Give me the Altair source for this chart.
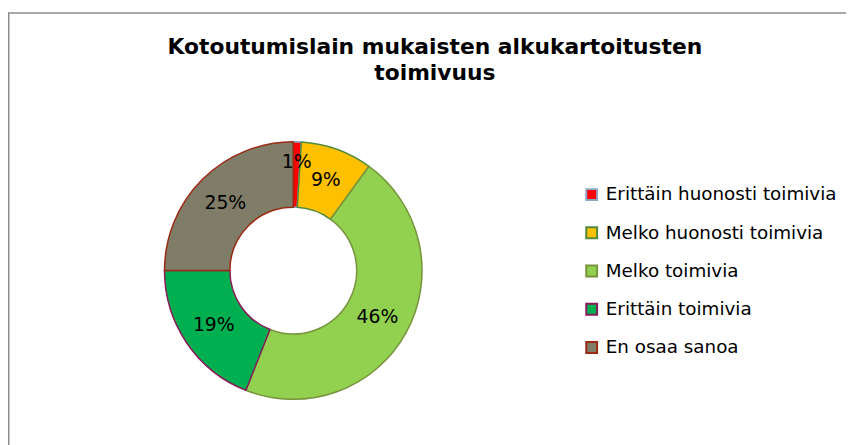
import altair as alt
import pandas as pd

categories = ["Erittäin huonosti toimivia", "Melko huonosti toimivia", "Melko toimivia",
              "Erittäin toimivia", "En osaa sanoa"]
values = [1, 9, 46, 19, 25]
labels = ["1%", "9%", "46%", "19%", "25%"]
fills = ["#FF0000", "#FFC000", "#92D050", "#00B050", "#7F7C67"]
strokes = ["#8EA6C6", "#4F8A3E", "#77933C", "#8B1A5A", "#9C2A12"]
title_lines = ["Kotoutumislain mukaisten alkukartoitusten", "toimivuus"]

df = pd.DataFrame({"cat": categories, "value": values, "label": labels,
                   "idx": list(range(len(categories)))})

FONT = "DejaVu Sans"
CX, CY = 288, 263

legend = alt.Legend(title=None, orient="none", legendX=580, legendY=177,
                    symbolType="square", symbolSize=120, symbolStrokeWidth=2,
                    labelFont=FONT, labelFontSize=18.5, labelColor="#000000",
                    labelOffset=5, rowPadding=18.6, labelLimit=400)

base = alt.Chart(df)

arcs = base.mark_arc(outerRadius=130, innerRadius=64, strokeWidth=1.5).encode(
    x=alt.value(CX), y=alt.value(CY),
    theta=alt.Theta("value:Q", stack=True),
    order=alt.Order("idx:Q"),
    fill=alt.Fill("cat:N", scale=alt.Scale(domain=categories, range=fills), legend=legend, sort=categories),
    stroke=alt.Stroke("cat:N", scale=alt.Scale(domain=categories, range=strokes), legend=legend, sort=categories),
)

stacked = base.transform_stack(
    stack="value", groupby=[], as_=["s0", "s1"], sort=[alt.SortField("idx", order="ascending")]
).transform_calculate(mid="(datum.s0 + datum.s1) / 2")

def label_layer(cond, r):
    return stacked.transform_filter(cond).mark_text(
        font=FONT, fontSize=19, color="#000000", radius=r).encode(
        x=alt.value(CX), y=alt.value(CY),
        theta=alt.Theta("mid:Q", stack=None),
        text="label:N",
    )

texts_main = label_layer("datum.value >= 2", 97)
texts_small = label_layer("datum.value < 2", 110)

one = alt.Chart(pd.DataFrame({"a": [0]}))
border = one.mark_rect(fill=None, stroke="#8C8C8C", strokeWidth=1.5).encode(
    x=alt.value(0.75), y=alt.value(3), x2=alt.value(900), y2=alt.value(500))

t1 = one.mark_text(font=FONT, fontSize=22, fontWeight="bold", color="#000000",
                   align="center", baseline="alphabetic").encode(
    x=alt.value(431), y=alt.value(44), text=alt.value(title_lines[0]))
t2 = one.mark_text(font=FONT, fontSize=22, fontWeight="bold", color="#000000",
                   align="center", baseline="alphabetic").encode(
    x=alt.value(431), y=alt.value(71), text=alt.value(title_lines[1]))

chart = alt.layer(border, arcs, texts_main, texts_small, t1, t2).properties(
    width=846, height=437, autosize=alt.AutoSizeParams(type="none"), padding=0,
    background="#FFFFFF"
).configure_view(stroke=None)

chart.save("out.html", embed_options={"renderer": "svg", "actions": False})
